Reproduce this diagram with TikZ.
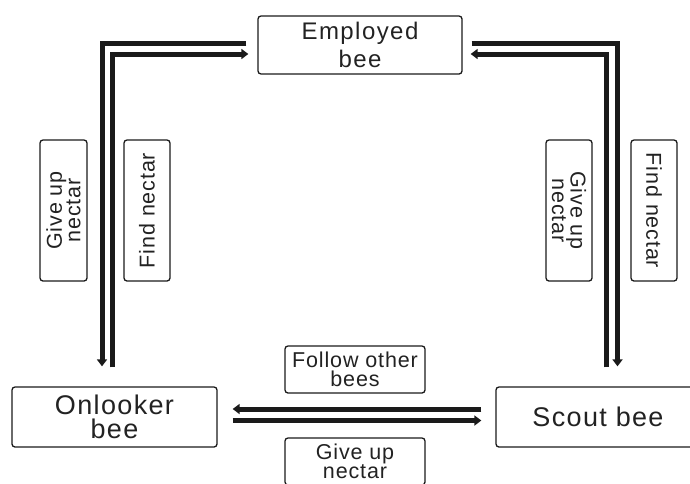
\documentclass[tikz,border=0pt]{standalone}
\usepackage{fontspec}
\setmainfont{Liberation Sans}
\usetikzlibrary{arrows.meta}
\definecolor{ink}{HTML}{1A1A1A}
\definecolor{txt}{HTML}{222222}
\begin{document}
\begin{tikzpicture}[x=1pt,y=-1pt,
  box/.style={draw=ink,line width=1.3pt,rounded corners=3pt,align=center,text=txt,inner sep=0pt},
  bigbox/.style={box,font=\addfontfeature{LetterSpace=5}\fontsize{27}{24}\selectfont},
  empbox/.style={box,font=\addfontfeature{LetterSpace=6}\fontsize{24}{28}\selectfont},
  lab/.style={box,font=\addfontfeature{LetterSpace=4}\fontsize{21.5}{18.5}\selectfont},
  flow/.style={draw=ink,line width=5pt,-{Triangle[length=7pt,width=10pt]}},
  plain/.style={draw=ink,line width=5pt}]
\useasboundingbox (0,0) rectangle (690,483);
\node[empbox,minimum width=204pt,minimum height=58pt] (emp) at (360,45) {Employed\\bee};
\node[bigbox,minimum width=205pt,minimum height=60pt] (onl) at (114.5,417) {Onlooker\\bee};
\node[bigbox,minimum width=204pt,minimum height=60pt] (sco) at (598,417) {Scout bee};
\node[lab,rotate=90,minimum width=141pt,minimum height=47pt] (lgu) at (63.5,210.5) {Give up\\nectar};
\node[lab,rotate=90,minimum width=141pt,minimum height=46pt] (lfn) at (147,210.5) {Find nectar};
\node[lab,rotate=-90,minimum width=141pt,minimum height=46pt] (rgu) at (569,210.5) {Give up\\nectar};
\node[lab,rotate=-90,minimum width=141pt,minimum height=46pt] (rfn) at (654,210.5) {Find nectar};
\node[lab,minimum width=140pt,minimum height=47pt] (fob) at (355,369.5) {Follow other\\bees};
\node[lab,minimum width=140pt,minimum height=47pt] (bgu) at (355,461.5) {Give up\\nectar};
% left pair
\draw[flow] ([xshift=-11pt,yshift=2pt]emp.west) -| ([xshift=-12.5pt,yshift=20pt]onl.north);
\draw[flow] ([xshift=-2.5pt,yshift=19pt]onl.north) |- ([xshift=-9pt,yshift=-9pt]emp.west);
% right pair
\draw[flow] ([xshift=9pt,yshift=2pt]emp.east) -| ([xshift=19.5pt,yshift=20pt]sco.north);
\draw[flow] ([xshift=8.5pt,yshift=19pt]sco.north) |- ([xshift=8pt,yshift=-9pt]emp.east);
% bottom pair
\draw[flow] ([xshift=-14pt,yshift=8pt]sco.west) -- ([xshift=15pt,yshift=8pt]onl.west -| onl.east);
\draw[flow] ([xshift=15pt,yshift=-3.5pt]onl.east) -- ([xshift=-14pt,yshift=-3.5pt]sco.west);
\end{tikzpicture}
\end{document}
